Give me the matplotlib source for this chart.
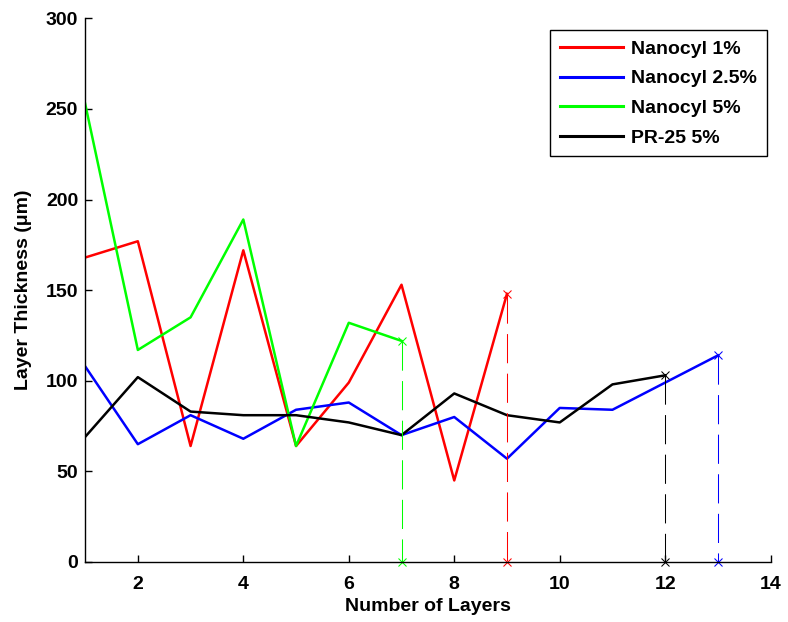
import matplotlib
matplotlib.use("Agg")
import matplotlib.pyplot as plt

plt.rcParams['font.family'] = ['Liberation Sans', 'DejaVu Sans']
plt.rcParams['font.weight'] = 'bold'

labels = ["Nanocyl 1%", "Nanocyl 2.5%", "Nanocyl 5%", "PR-25 5%"]
colors = ["#ff0000", "#0000ff", "#00ff00", "#000000"]

x_n1 = [1, 2, 3, 4, 5, 6, 7, 8, 9]
y_n1 = [168, 177, 64, 172, 64, 99, 153, 45, 148]

x_n25 = [1, 2, 3, 4, 5, 6, 7, 8, 9, 10, 11, 12, 13]
y_n25 = [108, 65, 81, 68, 84, 88, 70, 80, 57, 85, 84, 99, 114]

x_n5 = [1, 2, 3, 4, 5, 6, 7]
y_n5 = [253, 117, 135, 189, 64, 132, 122]

x_pr = [1, 2, 3, 4, 5, 6, 7, 8, 9, 10, 11, 12]
y_pr = [69, 102, 83, 81, 81, 77, 70, 93, 81, 77, 98, 103]

xticks = [2, 4, 6, 8, 10, 12, 14]
yticks = [0, 50, 100, 150, 200, 250, 300]

series = [(x_n1, y_n1), (x_n25, y_n25), (x_n5, y_n5), (x_pr, y_pr)]

FS = 14

fig = plt.figure(figsize=(7.88, 6.22), dpi=100)
ax = fig.add_axes([0.108, 0.0965, 0.870, 0.874])

for (xs, ys), c, lab in zip(series, colors, labels):
    ax.plot(xs, ys, color=c, lw=1.8, label=lab)

for (xs, ys), c in zip(series, colors):
    xe, ye = xs[-1], ys[-1]
    ax.plot([xe, xe], [ye, 0], color=c, lw=0.75, linestyle=(0, (28, 10)),
            marker='x', markersize=6, markeredgewidth=0.75, clip_on=False)

ax.set_xlim(1, 14)
ax.set_ylim(0, 300)
ax.set_xticks(xticks)
ax.set_yticks(yticks)
ax.spines['top'].set_visible(False)
ax.spines['right'].set_visible(False)
for s in ['left', 'bottom']:
    ax.spines[s].set_linewidth(1.0)
ax.tick_params(direction='in', length=5, width=1, labelsize=FS)
ax.tick_params(axis='x', pad=10)
ax.tick_params(axis='y', pad=5)
for t in ax.get_xticklabels() + ax.get_yticklabels():
    t.set_fontweight('bold')

ax.set_xlabel("Number of Layers", fontsize=FS, fontweight='bold', labelpad=4)
ax.set_ylabel("Layer Thickness (\u03bcm)", fontsize=FS, fontweight='bold', labelpad=10)

leg = ax.legend(loc='upper right', bbox_to_anchor=(0.994, 0.978), borderaxespad=0,
                fontsize=FS, frameon=True, fancybox=False, edgecolor='black',
                framealpha=1, handlelength=3.25, labelspacing=0.62, borderpad=0.5,
                handletextpad=0.4)
leg.get_frame().set_linewidth(1.0)
for t in leg.get_texts():
    t.set_fontweight('bold')
for h in leg.get_lines():
    h.set_linewidth(2.2)

fig.savefig("out.png", dpi=100)
